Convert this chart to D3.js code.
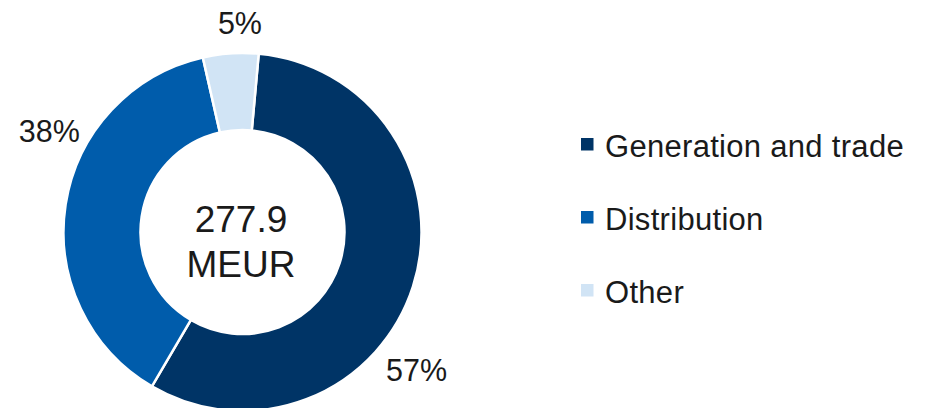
<!DOCTYPE html>
<html>
<head>
<meta charset="utf-8">
<script src="https://cdn.jsdelivr.net/npm/d3@7"></script>
<style>
  html, body { margin: 0; padding: 0; background: #fff; }
  svg { display: block; font-family: "Liberation Sans", Arial, sans-serif; }
</style>
</head>
<body>
<svg id="chart" width="931" height="408"></svg>
<script>
// ---- data ----
const categories = ["Generation and trade", "Distribution", "Other"];
const shares = [57, 38, 5];
const sliceLabels = ["57%", "38%", "5%"];
const totalLabel = ["277.9", "MEUR"];
const colors = ["#003466", "#005CAB", "#D1E4F5"];

// ---- layout ----
const W = 931, H = 408;
const cx = 242.5, cy = 232;
const outerR = 179, innerR = 102;
const startOffset = 5.2 * Math.PI / 180;
const labelShift = [20.6, 18.8, 3.1];   // degrees, shift of label from slice mid-angle
const labelRadius = [222, 218, 209];

const svg = d3.select("#chart");
const g = svg.append("g").attr("transform", `translate(${cx},${cy})`);

const pie = d3.pie().sort(null).value(d => d)
  .startAngle(startOffset).endAngle(startOffset + 2 * Math.PI);
const arcs = pie(shares);
const arc = d3.arc().innerRadius(innerR).outerRadius(outerR);

g.selectAll("path.slice").data(arcs).enter().append("path")
  .attr("class", "slice")
  .attr("d", arc)
  .attr("fill", (d, i) => colors[i])
  .attr("stroke", "#fff")
  .attr("stroke-width", 2.5)
  .attr("stroke-linejoin", "miter");

// slice labels
g.selectAll("text.pct").data(arcs).enter().append("text")
  .attr("class", "pct")
  .attr("x", (d, i) => {
    const a = (d.startAngle + d.endAngle) / 2 + labelShift[i] * Math.PI / 180;
    return labelRadius[i] * Math.sin(a);
  })
  .attr("y", (d, i) => {
    const a = (d.startAngle + d.endAngle) / 2 + labelShift[i] * Math.PI / 180;
    return -labelRadius[i] * Math.cos(a);
  })
  .attr("dy", "0.36em")
  .attr("text-anchor", "middle")
  .attr("font-size", 30.5)
  .attr("fill", "#1a1a1a")
  .text((d, i) => sliceLabels[i]);

// center label
const ct = g.append("text").attr("text-anchor", "middle")
  .attr("font-size", 37).attr("fill", "#1a1a1a");
ct.append("tspan").attr("x", -1.5).attr("y", 0).text(totalLabel[0]);
ct.append("tspan").attr("x", -1.5).attr("y", 45).text(totalLabel[1]);

// legend
const legend = svg.append("g").attr("transform", "translate(581,138)");
const ly = d3.scalePoint().domain(categories).range([0, 146]);
const items = legend.selectAll("g.item").data(categories).enter().append("g")
  .attr("class", "item")
  .attr("transform", d => `translate(0,${ly(d)})`);
items.append("rect").attr("x", 0).attr("y", 0).attr("width", 12.5).attr("height", 12.5)
  .attr("fill", (d, i) => colors[i]);
items.append("text").attr("x", 24).attr("y", 19)
  .attr("font-size", 31).attr("letter-spacing", 0.3)
  .attr("fill", "#1a1a1a")
  .text(d => d);
</script>
</body>
</html>
